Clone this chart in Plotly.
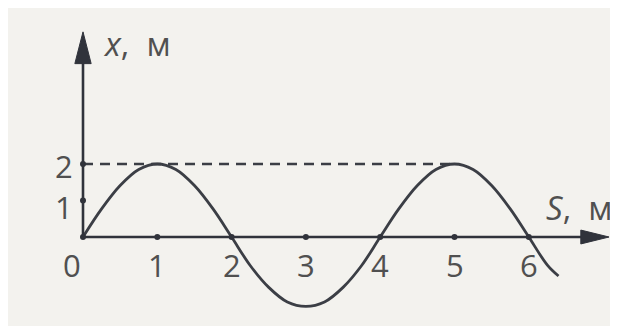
import plotly.graph_objects as go

# distance S (m) and displacement x (m)
s_vals = [0, 0.25, 0.5, 0.75, 1, 1.25, 1.5, 1.75, 2, 2.25, 2.5, 2.75, 3,
          3.25, 3.5, 3.75, 4, 4.25, 4.5, 4.75, 5, 5.25, 5.5, 5.75, 6, 6.25, 6.4]
x_vals = [0, 0.77, 1.41, 1.85, 2, 1.85, 1.41, 0.77, 0, -0.78, -1.38, -1.78, -1.9,
          -1.78, -1.38, -0.78, 0, 0.77, 1.41, 1.85, 2, 1.85, 1.41, 0.77, 0, -0.77, -1.07]

s_ticks = [1, 2, 3, 4, 5, 6]
x_ticks = [1, 2]
s_tick_labels = ["1", "2", "3", "4", "5", "6"]
x_tick_labels = ["1", "2"]

amp = 2
amp_end = 5

line_col = "#3b3e45"
axis_col = "#30333b"
text_col = "#505050"
bg = "#f3f2ee"
font = "Open Sans"

fig = go.Figure()

# dashed level line x = 2
fig.add_trace(go.Scatter(x=[0, amp_end], y=[amp, amp], mode="lines",
                         line=dict(color=line_col, width=2.6, dash="10px,7px"),
                         hoverinfo="skip"))

# axes with arrow heads
fig.add_shape(type="line", x0=0, y0=0, x1=6.8, y1=0,
              line=dict(color=axis_col, width=2.6))
fig.add_shape(type="line", x0=0, y0=0, x1=0, y1=4.9,
              line=dict(color=axis_col, width=2.6))
fig.add_shape(type="path", path="M 6.7,-0.19 L 7.08,0 L 6.7,0.19 Z",
              fillcolor=axis_col, line=dict(color=axis_col, width=1))
fig.add_shape(type="path", path="M -0.11,4.75 L 0,5.62 L 0.11,4.75 Z",
              fillcolor=axis_col, line=dict(color=axis_col, width=1))

# curve
fig.add_trace(go.Scatter(x=s_vals, y=x_vals, mode="lines", line_shape="spline",
                         line=dict(color=line_col, width=2.8), hoverinfo="skip"))

# tick dots
fig.add_trace(go.Scatter(x=[0] + s_ticks + [0] * len(x_ticks),
                         y=[0] + [0] * len(s_ticks) + x_ticks,
                         mode="markers", marker=dict(color=axis_col, size=6),
                         hoverinfo="skip"))

tf = dict(family=font, size=31, color=text_col)
lf = dict(family=font, size=33, color=text_col)

for s, lab in zip(s_ticks, s_tick_labels):
    fig.add_annotation(x=s, y=0, text=lab, showarrow=False, yshift=-28,
                       font=tf, xanchor="center", yanchor="middle")
for xv, lab in zip(x_ticks, x_tick_labels):
    fig.add_annotation(x=0, y=xv, text=lab, showarrow=False, xshift=-19,
                       yshift=-2 if xv == 2 else -6,
                       font=tf, xanchor="center", yanchor="middle")
fig.add_annotation(x=0, y=0, text="0", showarrow=False, xshift=-11, yshift=-28,
                   font=tf, xanchor="center", yanchor="middle")

fig.add_annotation(x=0.24, y=5.3, text="<i>x</i>,&#160;&#160;м", showarrow=False,
                   font=lf, xanchor="left", yanchor="middle")
fig.add_annotation(x=6.2, y=0.82, text="<i>S</i>,&#160;&#160;м", showarrow=False,
                   font=lf, xanchor="left", yanchor="middle")

# page has an 8px body margin, so the figure starts at (8, 8)
W, H = 610, 318
ox, oy = 83 - 8, 237 - 8     # origin inside the figure, px
kx, ky = 74.3, 36.5          # px per metre
x0 = -ox / kx
y1 = oy / ky
fig.update_layout(
    width=W, height=H,
    margin=dict(l=0, r=0, t=0, b=0),
    paper_bgcolor=bg, plot_bgcolor=bg,
    showlegend=False,
    xaxis=dict(range=[x0, x0 + W / kx], visible=False, fixedrange=True),
    yaxis=dict(range=[y1 - H / ky, y1], visible=False, fixedrange=True),
)

fig.write_html("out.html")
